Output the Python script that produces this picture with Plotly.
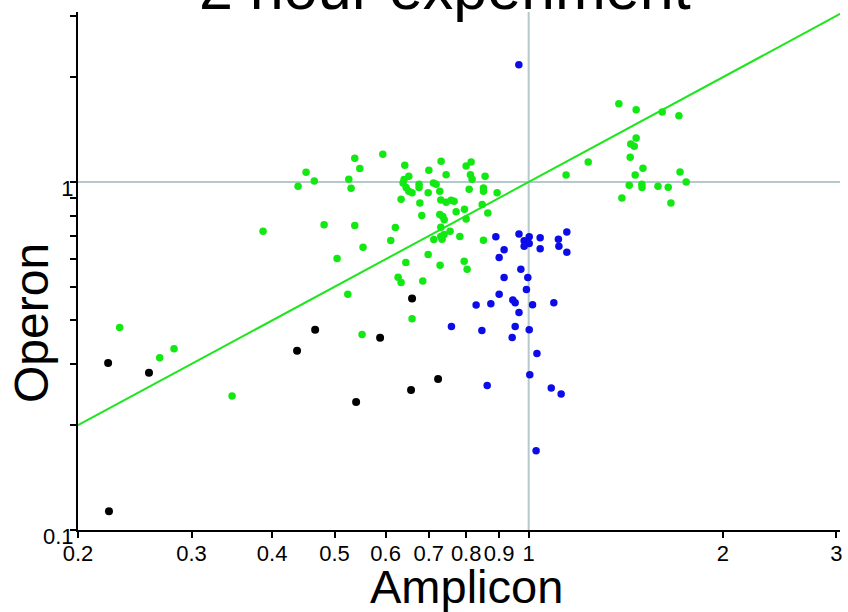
import plotly.graph_objects as go
import math

# ---- data ----
black_x = [0.2227, 0.2577, 0.2234, 0.4373, 0.4665, 0.540, 0.5883, 0.6594, 0.657, 0.7236]
black_y = [0.302, 0.2829, 0.1132, 0.3273, 0.3763, 0.2333, 0.3568, 0.4623, 0.2527, 0.2718]

blue_x = [0.9656, 0.966, 1.002, 0.984, 1.002, 0.984, 1.042, 1.042, 1.112, 1.114,
          1.146, 1.146, 0.8894, 0.916, 0.900, 0.9725, 0.916, 0.997, 0.992, 0.900,
          0.945, 0.953, 0.8289, 0.8736, 1.014, 1.094, 0.966, 0.759, 0.8461, 0.953,
          1.002, 0.9428, 1.030, 1.004, 0.8623, 1.084, 1.123, 1.027]
blue_y = [2.174, 0.7084, 0.6963, 0.678, 0.6659, 0.654, 0.6915, 0.6427, 0.6851, 0.654,
          0.7178, 0.6284, 0.6963, 0.6384, 0.6067, 0.5615, 0.5313, 0.5313, 0.4907, 0.4756,
          0.4582, 0.450, 0.4432, 0.4471, 0.4441, 0.450, 0.4219, 0.3846, 0.3746, 0.3846,
          0.3763, 0.3575, 0.3215, 0.2792, 0.260, 0.2561, 0.246, 0.169]

green_x = [0.2321, 0.2678, 0.2818, 0.3467, 0.3873, 0.4389, 0.4516, 0.4651, 0.4816, 0.5045,
           0.5242, 0.526, 0.5304, 0.5374, 0.5374, 0.5471, 0.5516, 0.5535, 0.594, 0.6111,
           0.6212, 0.6273, 0.6341, 0.6341, 0.6409, 0.6386, 0.6425, 0.6455, 0.6518, 0.6518,
           0.6594, 0.6594, 0.6449, 0.6761, 0.6761, 0.678, 0.6827, 0.6851, 0.6984, 0.7001,
           0.6984, 0.7116, 0.7185, 0.7126, 0.728, 0.728, 0.7307, 0.7307, 0.7307, 0.7288,
           0.7314, 0.734, 0.7358, 0.7392, 0.7397, 0.7447, 0.7447, 0.7554, 0.7581, 0.7662,
           0.7718, 0.782, 0.7951, 0.7943, 0.7998, 0.7998, 0.8027, 0.8085, 0.8122, 0.8143,
           0.8171, 0.847, 0.8509, 0.8509, 0.8509, 0.8559, 0.8642, 0.8935, 1.143, 1.237,
           1.380, 1.468, 1.611, 1.710, 1.468, 1.440, 1.458, 1.437, 1.504, 1.717,
           1.463, 1.755, 1.432, 1.498, 1.499, 1.587, 1.646, 1.395, 1.662]
green_y = [0.3821, 0.3125, 0.3317, 0.2428, 0.7224, 0.9719, 1.0665, 1.0067, 0.7537, 0.6027,
           0.4756, 1.018, 0.959, 1.170, 0.7502, 1.093, 0.3648, 0.6497, 1.202, 0.6792,
           0.7404, 0.5323, 0.8915, 0.514, 1.016, 0.9934, 1.117, 0.9636, 1.0385, 0.9402,
           0.9321, 0.4047, 0.5869, 0.9849, 0.9636, 0.870, 0.8017, 0.5198, 0.9321, 1.081,
           0.6187, 0.9934, 0.9849, 0.6837, 0.9402, 0.8071, 0.8875, 0.7418, 0.6976, 0.5765,
           1.147, 0.6851, 0.7965, 0.7069, 0.7791, 1.050, 0.874, 0.7224, 0.8858, 0.8799,
           0.8219, 0.6976, 0.8344, 0.592, 1.112, 0.7823, 0.5615, 0.9527, 1.050, 1.142,
           1.018, 0.8624, 0.961, 0.9402, 0.6805, 1.0385, 0.8141, 0.9321, 1.048, 1.142,
           1.678, 1.612, 1.588, 1.549, 1.339, 1.287, 1.267, 1.178, 1.095, 1.069,
           1.048, 1.000, 0.9783, 0.9849, 0.9636, 0.9719, 0.9654, 0.8993, 0.870]

diag = [0.2, 3.05]          # y = x reference line
ref_value = 1               # crosshair lines at x = 1 and y = 1

x_ticks = [0.2, 0.3, 0.4, 0.5, 0.6, 0.7, 0.8, 0.9, 1, 2, 3]
x_ticktext = ["0.2", "0.3", "0.4", "0.5", "0.6", "0.7", "0.8", "0.9", "1", "2", "3"]
y_ticks = [0.1, 0.2, 0.3, 0.4, 0.5, 0.6, 0.7, 0.8, 0.9, 1, 2, 3]
y_ticktext = ["0.1", "", "", "", "", "", "", "", "", "1", "", ""]

x_range = [0.2, 3.04]
y_range = [0.1, 3.08]

FONT = "Liberation Sans, Arial, sans-serif"
GREEN = "#12e812"
LINE_GREEN = "#1ee61e"
BLUE = "#0c0ce8"
GRAY = "#b5c8cb"

fig = go.Figure()
fig.add_trace(go.Scatter(x=diag, y=diag, mode="lines",
                         line=dict(color=LINE_GREEN, width=2), hoverinfo="skip"))
fig.add_trace(go.Scatter(x=green_x, y=green_y, mode="markers",
                         marker=dict(color=GREEN, size=7.5, line=dict(width=0))))
fig.add_trace(go.Scatter(x=blue_x, y=blue_y, mode="markers",
                         marker=dict(color=BLUE, size=7.5, line=dict(width=0))))
fig.add_trace(go.Scatter(x=black_x, y=black_y, mode="markers",
                         marker=dict(color="black", size=8, line=dict(width=0))))

fig.add_shape(type="line", xref="x", yref="paper", x0=ref_value, x1=ref_value, y0=0, y1=1,
              line=dict(color=GRAY, width=2), layer="below")
fig.add_shape(type="line", xref="paper", yref="y", x0=0, x1=1, y0=ref_value, y1=ref_value,
              line=dict(color=GRAY, width=2), layer="below")

L, R, T, B = 78, 8, 12, 82
W, H = 848, 612
pw, ph = W - L - R, H - T - B

def px_x(p):
    return (p - L) / pw

def px_y(p):
    return (H - B - p) / ph

fig.update_layout(
    width=W, height=H,
    margin=dict(l=L, r=R, t=T, b=B, pad=0, autoexpand=False),
    paper_bgcolor="white", plot_bgcolor="white",
    showlegend=False,
    font=dict(family=FONT, color="black"),
    xaxis=dict(type="log", range=[math.log10(v) for v in x_range], automargin=False,
               showline=True, linecolor="black", linewidth=2, mirror=False,
               showgrid=False, zeroline=False, tickangle=0,
               ticks="outside", ticklen=6, tickwidth=1.5, tickcolor="black",
               tickmode="array", tickvals=x_ticks, ticktext=x_ticktext,
               ticklabelstandoff=-3,
               tickfont=dict(family=FONT, size=22, color="black")),
    yaxis=dict(type="log", range=[math.log10(v) for v in y_range], automargin=False,
               showline=True, linecolor="black", linewidth=2, mirror=False,
               showgrid=False, zeroline=False, tickangle=0,
               ticks="outside", ticklen=6, tickwidth=1.5, tickcolor="black",
               tickmode="array", tickvals=y_ticks, ticktext=y_ticktext,
               ticklabelshift=6, ticklabelstandoff=-8,
               tickfont=dict(family=FONT, size=22, color="black")),
    annotations=[
        dict(text="2 hour experiment", xref="paper", yref="paper",
             x=px_x(445), y=px_y(24), xanchor="center", yanchor="bottom",
             showarrow=False, font=dict(family=FONT, size=61, color="black")),
        dict(text="Amplicon", xref="paper", yref="paper",
             x=px_x(466), y=px_y(558), xanchor="center", yanchor="top",
             showarrow=False, font=dict(family=FONT, size=47, color="black")),
        dict(text="Operon", xref="paper", yref="paper", textangle=-90,
             x=px_x(31), y=px_y(323), xanchor="center", yanchor="middle",
             showarrow=False, font=dict(family=FONT, size=48, color="black")),
    ],
)

fig.write_html("out.html", config={"displayModeBar": False},
               post_script="document.body.style.margin='0px';document.body.style.overflow='hidden';")
